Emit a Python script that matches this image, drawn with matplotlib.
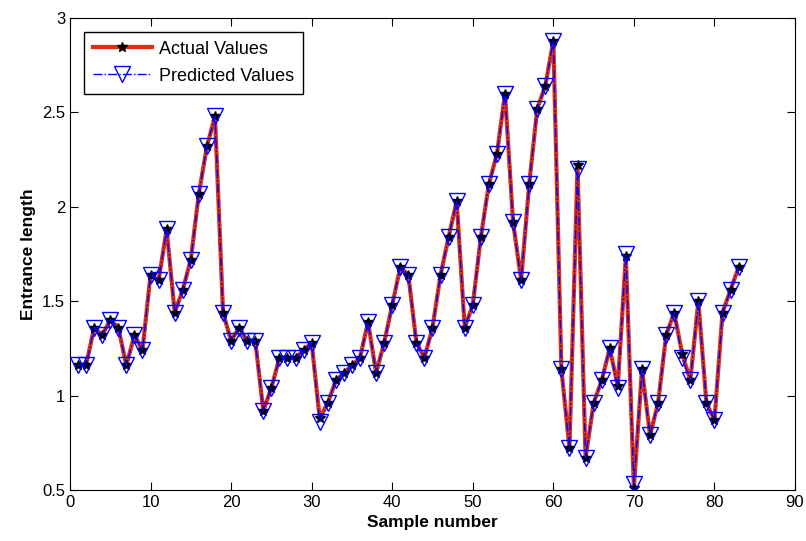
import matplotlib
matplotlib.use("Agg")
import matplotlib.pyplot as plt

plt.rcParams['font.family'] = ['Liberation Sans Narrow', 'Liberation Sans', 'DejaVu Sans']

samples = list(range(1, 84))
actual = [1.16, 1.16, 1.36, 1.32, 1.40, 1.36, 1.16, 1.32, 1.24, 1.64,
          1.61, 1.88, 1.44, 1.56, 1.72, 2.07, 2.32, 2.48, 1.44, 1.29,
          1.36, 1.29, 1.29, 0.92, 1.04, 1.20, 1.20, 1.20, 1.24, 1.28,
          0.88, 0.96, 1.08, 1.12, 1.16, 1.20, 1.39, 1.12, 1.28, 1.48,
          1.68, 1.64, 1.28, 1.20, 1.36, 1.64, 1.84, 2.03, 1.36, 1.48,
          1.84, 2.12, 2.28, 2.60, 1.92, 1.61, 2.12, 2.52, 2.64, 2.88,
          1.14, 0.72, 2.22, 0.67, 0.96, 1.08, 1.25, 1.05, 1.74, 0.51,
          1.14, 0.79, 0.96, 1.32, 1.44, 1.22, 1.08, 1.50, 0.96, 0.87,
          1.44, 1.56, 1.68]
predicted = list(actual)
predicted[30] = 0.86
predicted[62] = 2.20
predicted[67] = 1.04
predicted[68] = 1.75
predicted[69] = 0.53
predicted[75] = 1.20

fig = plt.figure(figsize=(8.06, 5.41), dpi=100)
ax = fig.add_axes([0.0868, 0.0943, 0.8996, 0.8724])

ax.plot(samples, actual, color='#e0300c', lw=3, marker='*', ms=7,
        mfc='black', mec='black', label='Actual Values', zorder=2)
ax.plot(samples, predicted, color='blue', lw=1, ls='-.', marker='v', ms=12,
        mfc='none', mec='blue', mew=1, label='Predicted Values', zorder=3)

ax.set_xlim(0, 90)
ax.set_ylim(0.5, 3)
ax.set_xticks(range(0, 91, 10))
ax.set_yticks([0.5, 1, 1.5, 2, 2.5, 3])
ax.set_yticklabels(['0.5', '1', '1.5', '2', '2.5', '3'])
ax.tick_params(direction='in', top=True, right=True, labelsize=12, length=6)
ax.set_xlabel('Sample number', fontsize=12.5, fontweight='bold', family=['Liberation Sans', 'DejaVu Sans'])
ax.set_ylabel('Entrance length', fontsize=12.5, fontweight='bold', family=['Liberation Sans', 'DejaVu Sans'])

leg = ax.legend(loc='upper left', fontsize=13, fancybox=False, edgecolor='black',
                framealpha=1, borderaxespad=0.75, handlelength=3.3,
                labelspacing=0.55, borderpad=0.5, handletextpad=0.4)
leg.get_frame().set_linewidth(1)

fig.savefig('out.png', dpi=100)
